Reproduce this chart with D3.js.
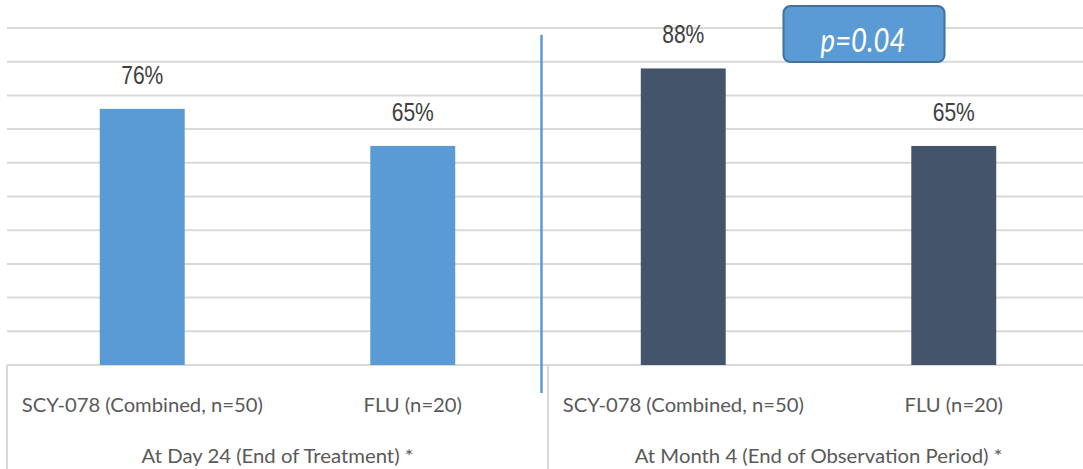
<!DOCTYPE html>
<html>
<head>
<meta charset="utf-8">
<script src="https://cdn.jsdelivr.net/npm/d3@7"></script>
<style>
  html, body { margin: 0; padding: 0; background: #fff; }
  svg { display: block; }
</style>
</head>
<body>
<svg id="chart" width="1083" height="469"></svg>
<script>
// ---- data ----
const groups = ["At Day 24 (End of Treatment) *", "At Month 4 (End of Observation Period) *"];
const categories = ["SCY-078 (Combined, n=50)", "FLU (n=20)"];
const day24Values = [76, 65];
const month4Values = [88, 65];
const groupValues = [day24Values, month4Values];
const groupColors = ["#5B9BD5", "#44546A"];
const gridTicks = [0, 10, 20, 30, 40, 50, 60, 70, 80, 90, 100];
const pValueLabel = "p=0.04";

(function () {
// ---- build rows ----
const rows = [];
groups.forEach((g, gi) => {
  categories.forEach((c, ci) => {
    rows.push({ key: gi + "|" + ci, group: g, gi, category: c, value: groupValues[gi][ci] });
  });
});

const svg = d3.select("#chart");
const W = 1083, H = 469;
const plotLeft = 7, plotRight = 1089, plotTop = 28, base = 365;

const x = d3.scaleBand()
  .domain(rows.map(d => d.key))
  .range([plotLeft, plotRight])
  .paddingInner(0.686)
  .paddingOuter(0.343);

const y = d3.scaleLinear().domain([0, 100]).range([base, plotTop]);

const grid = "#D9D9D9";

// gridlines
svg.append("g").selectAll("line")
  .data(gridTicks)
  .join("line")
  .attr("x1", plotLeft).attr("x2", W)
  .attr("y1", d => y(d)).attr("y2", d => y(d))
  .attr("stroke", grid).attr("stroke-width", 2);

// group boundaries for category box
const step = x.step();
const groupStart = gi => x(gi + "|0") - x.paddingOuter() * step;
const groupEnd = gi => x(gi + "|" + (categories.length - 1)) + x.bandwidth() + x.paddingOuter() * step;

const bounds = [groupStart(0), groupEnd(0), groupEnd(1)];
svg.append("g").selectAll("line")
  .data(bounds)
  .join("line")
  .attr("x1", d => d).attr("x2", d => d)
  .attr("y1", base).attr("y2", H)
  .attr("stroke", grid).attr("stroke-width", 2);

// bars
svg.append("g").selectAll("rect")
  .data(rows)
  .join("rect")
  .attr("x", d => x(d.key))
  .attr("width", x.bandwidth())
  .attr("y", d => y(d.value))
  .attr("height", d => y(0) - y(d.value))
  .attr("fill", d => groupColors[d.gi]);

// value labels
svg.append("g").selectAll("text")
  .data(rows)
  .join("text")
  .attr("transform", d => `translate(${x(d.key) + x.bandwidth() / 2},${y(d.value) - 25}) scale(0.81,1)`)
  .attr("text-anchor", "middle")
  .attr("font-family", "'Liberation Sans', Arial, sans-serif")
  .attr("font-size", 26)
  .attr("fill", "#404040")
  .text(d => d.value + "%");

// category labels
svg.append("g").selectAll("text")
  .data(rows)
  .join("text")
  .attr("transform", d => `translate(${x(d.key) + x.bandwidth() / 2},411.5) scale(1.065,1)`)
  .attr("text-anchor", "middle")
  .attr("font-family", "Lato, 'Open Sans', sans-serif")
  .attr("font-size", 19)
  .attr("fill", "#595959")
  .text(d => d.category);

// group labels
svg.append("g").selectAll("text")
  .data(groups)
  .join("text")
  .attr("transform", (d, gi) => `translate(${(groupStart(gi) + groupEnd(gi)) / 2},463) scale(1.07,1)`)
  .attr("text-anchor", "middle")
  .attr("font-family", "Lato, 'Open Sans', sans-serif")
  .attr("font-size", 19)
  .attr("fill", "#595959")
  .text(d => d);

// blue separator line between periods
const sepX = groupEnd(0) - 6.5;
svg.append("line")
  .attr("x1", sepX).attr("x2", sepX)
  .attr("y1", y(98)).attr("y2", base + 28)
  .attr("stroke", "#5B9BD5").attr("stroke-width", 2.5);

// p-value callout box
const g2mid = (groupStart(1) + groupEnd(1)) / 2;
const boxX = g2mid - 35, boxW = 161;
const boxY = y(100) - 22, boxH = 56;
svg.append("rect")
  .attr("x", boxX).attr("y", boxY)
  .attr("width", boxW).attr("height", boxH)
  .attr("rx", 7).attr("ry", 7)
  .attr("fill", "#5B9BD5")
  .attr("stroke", "#41719C").attr("stroke-width", 2);
svg.append("text")
  .attr("transform", `translate(${boxX + boxW / 2 - 1},${boxY + 46}) scale(0.86,1)`)
  .attr("text-anchor", "middle")
  .attr("font-family", "Lato, 'Open Sans', sans-serif")
  .attr("font-style", "italic")
  .attr("font-size", 32)
  .attr("fill", "#ffffff")
  .text(pValueLabel);
})();
</script>
</body>
</html>
